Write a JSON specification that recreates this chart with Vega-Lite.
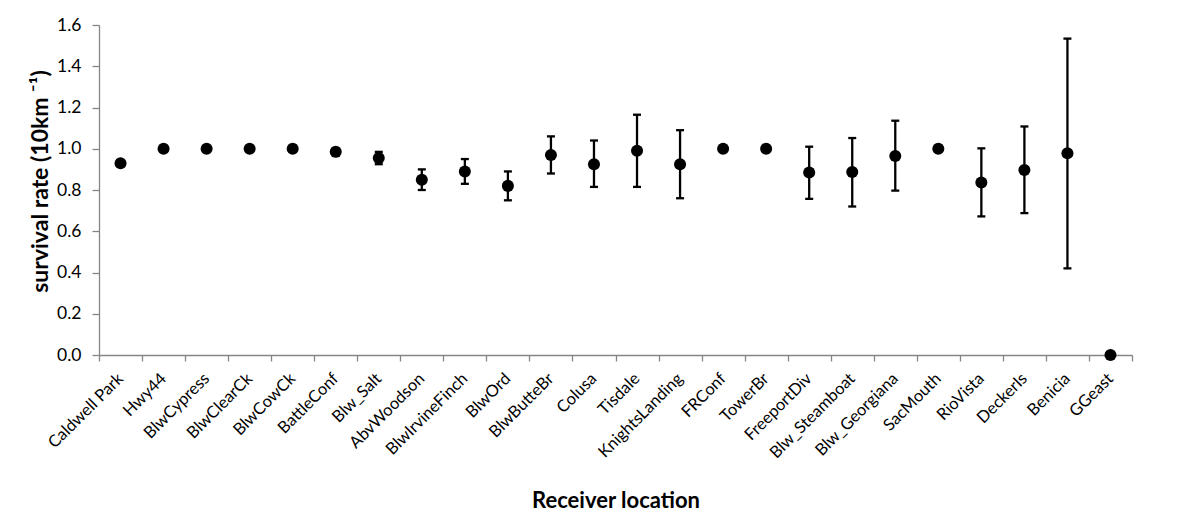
{
  "$schema": "https://vega.github.io/schema/vega-lite/v6.json",
  "width": 1033,
  "height": 330,
  "autosize": {"type": "none"},
  "padding": {"left": 99, "top": 25, "right": 69, "bottom": 177},
  "background": "white",
  "config": {
    "font": "Lato",
    "view": {"stroke": null},
    "axis": {
      "domainColor": "#868686",
      "tickColor": "#868686",
      "domainWidth": 1.3,
      "tickWidth": 1.3,
      "grid": false,
      "labelColor": "#000000",
      "titleColor": "#000000",
      "labelFont": "Lato",
      "titleFont": "Lato"
    }
  },
  "data": {
    "values": [
      {"site": "Caldwell Park", "rate": 0.93, "lo": null, "hi": null},
      {"site": "Hwy44", "rate": 1.0, "lo": null, "hi": null},
      {"site": "BlwCypress", "rate": 1.0, "lo": null, "hi": null},
      {"site": "BlwClearCk", "rate": 1.0, "lo": null, "hi": null},
      {"site": "BlwCowCk", "rate": 1.0, "lo": null, "hi": null},
      {"site": "BattleConf", "rate": 0.985, "lo": 0.965, "hi": 1.0},
      {"site": "Blw_Salt", "rate": 0.955, "lo": 0.925, "hi": 0.985},
      {"site": "AbvWoodson", "rate": 0.85, "lo": 0.80, "hi": 0.90},
      {"site": "BlwIrvineFinch", "rate": 0.89, "lo": 0.83, "hi": 0.95},
      {"site": "BlwOrd", "rate": 0.82, "lo": 0.75, "hi": 0.89},
      {"site": "BlwButteBr", "rate": 0.97, "lo": 0.88, "hi": 1.06},
      {"site": "Colusa", "rate": 0.925, "lo": 0.815, "hi": 1.04},
      {"site": "Tisdale", "rate": 0.99, "lo": 0.815, "hi": 1.165},
      {"site": "KnightsLanding", "rate": 0.925, "lo": 0.76, "hi": 1.09},
      {"site": "FRConf", "rate": 1.0, "lo": null, "hi": null},
      {"site": "TowerBr", "rate": 1.0, "lo": null, "hi": null},
      {"site": "FreeportDiv", "rate": 0.885, "lo": 0.757, "hi": 1.01},
      {"site": "Blw_Steamboat", "rate": 0.887, "lo": 0.72, "hi": 1.052},
      {"site": "Blw_Georgiana", "rate": 0.965, "lo": 0.797, "hi": 1.136},
      {"site": "SacMouth", "rate": 1.0, "lo": null, "hi": null},
      {"site": "RioVista", "rate": 0.836, "lo": 0.672, "hi": 1.002},
      {"site": "DeckerIs", "rate": 0.897, "lo": 0.688, "hi": 1.108},
      {"site": "Benicia", "rate": 0.978, "lo": 0.42, "hi": 1.534},
      {"site": "GGeast", "rate": 0.0, "lo": null, "hi": null}
    ]
  },
  "encoding": {
    "x": {
      "field": "site",
      "type": "nominal",
      "sort": ["Caldwell Park", "Hwy44", "BlwCypress", "BlwClearCk", "BlwCowCk", "BattleConf", "Blw_Salt", "AbvWoodson", "BlwIrvineFinch", "BlwOrd", "BlwButteBr", "Colusa", "Tisdale", "KnightsLanding", "FRConf", "TowerBr", "FreeportDiv", "Blw_Steamboat", "Blw_Georgiana", "SacMouth", "RioVista", "DeckerIs", "Benicia", "GGeast"],
      "scale": {"paddingInner": 0, "paddingOuter": 0},
      "axis": {
        "title": "Receiver location",
        "titleFontSize": 22,
        "titleFontWeight": "bold",
        "titleBaseline": "alphabetic",
        "titleY": 152,
        "labelAngle": -45,
        "labelFontSize": 16.5,
        "labelPadding": 9,
        "labelOffset": -6,
        "tickBand": "extent",
        "tickSize": 6
      }
    }
  },
  "layer": [
    {
      "transform": [{"filter": "datum.lo != null"}],
      "mark": {"type": "rule", "color": "black", "strokeWidth": 2.3},
      "encoding": {
        "y": {"field": "lo", "type": "quantitative"},
        "y2": {"field": "hi"}
      }
    },
    {
      "transform": [{"filter": "datum.lo != null"}],
      "mark": {"type": "tick", "color": "black", "thickness": 2.3, "size": 8, "opacity": 1},
      "encoding": {"y": {"field": "lo", "type": "quantitative"}}
    },
    {
      "transform": [{"filter": "datum.hi != null"}],
      "mark": {"type": "tick", "color": "black", "thickness": 2.3, "size": 8, "opacity": 1},
      "encoding": {"y": {"field": "hi", "type": "quantitative"}}
    },
    {
      "mark": {"type": "point", "filled": true, "color": "black", "size": 145, "opacity": 1, "shape": "circle"},
      "encoding": {
        "y": {
          "field": "rate",
          "type": "quantitative",
          "scale": {"domain": [0, 1.6], "nice": false, "zero": true},
          "axis": {
            "title": "survival rate (10km ⁻¹)",
            "titleFontSize": 23,
            "titleFontWeight": "bold",
            "titleBaseline": "alphabetic",
            "titleX": -52,
            "titleY": 156,
            "values": [0, 0.2, 0.4, 0.6, 0.8, 1.0, 1.2, 1.4, 1.6],
            "format": ".1f",
            "labelFontSize": 17.5,
            "labelPadding": 11,
            "tickSize": 7
          }
        }
      }
    }
  ]
}
